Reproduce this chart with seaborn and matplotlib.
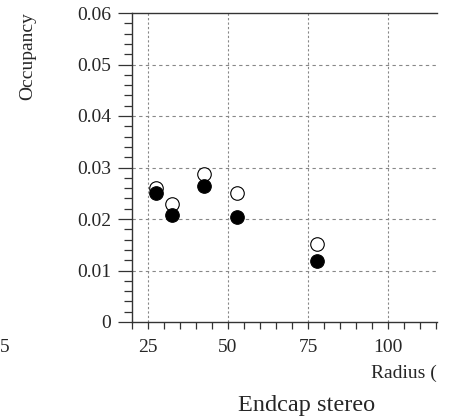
import matplotlib
matplotlib.use("Agg")
import matplotlib.pyplot as plt
import seaborn as sns
import pandas as pd
from matplotlib.ticker import MultipleLocator, FixedLocator

sns.set_style("white")
plt.rcParams['font.family'] = ['Liberation Serif', 'DejaVu Serif']

radius = [27.5, 32.6, 42.6, 52.7, 77.7]
occ_open = [0.0261, 0.0229, 0.0287, 0.0250, 0.0151]
occ_filled = [0.0250, 0.0208, 0.0264, 0.0203, 0.0119]
xticks = [25, 50, 75, 100]
yticks = [0, 0.01, 0.02, 0.03, 0.04, 0.05, 0.06]
ytick_labels = ["0", "0.01", "0.02", "0.03", "0.04", "0.05", "0.06"]

df = pd.DataFrame({
    "radius": radius * 2,
    "occ": occ_open + occ_filled,
    "kind": ["open"] * len(radius) + ["filled"] * len(radius),
})

fig = plt.figure(figsize=(4.56, 4.17), dpi=100)
ax = fig.add_axes([132/456, 1 - 322/417, (437-132)/456, (322-13)/417])

sns.scatterplot(data=df[df.kind == "open"], x="radius", y="occ", ax=ax,
                s=95, facecolor="white", edgecolor="black", linewidth=0.8,
                legend=False, zorder=3)
sns.scatterplot(data=df[df.kind == "filled"], x="radius", y="occ", ax=ax,
                s=95, color="black", edgecolor="black", linewidth=0.8,
                legend=False, zorder=4)

ax.set_xlim(20, 115.3)
ax.set_ylim(0, 0.06)
ax.set_xlabel("")
ax.set_ylabel("")

ax.xaxis.set_major_locator(FixedLocator(xticks))
ax.xaxis.set_minor_locator(MultipleLocator(5))
ax.yaxis.set_major_locator(FixedLocator(yticks))
ax.set_yticklabels(ytick_labels)
ax.yaxis.set_minor_locator(MultipleLocator(0.002))

for sp in ["right"]:
    ax.spines[sp].set_visible(False)
for sp in ["left", "bottom", "top"]:
    ax.spines[sp].set_color("#333333")
    ax.spines[sp].set_linewidth(1.0)

ax.tick_params(axis="y", which="major", length=10, width=0.9, color="#333333",
               labelsize=14, left=True, direction="out", pad=5)
ax.tick_params(axis="y", which="minor", length=5.5, width=0.9, color="#333333", left=True)
ax.tick_params(axis="x", which="major", length=5, width=0.9, color="#333333",
               labelsize=14, bottom=True, direction="out", pad=7)
ax.tick_params(axis="x", which="minor", length=5, width=0.9, color="#333333", bottom=True)

for x in xticks:
    ax.axvline(x, color="#888888", linestyle=(0, (2, 2)), linewidth=0.8, zorder=1)
for y in yticks[1:-1]:
    ax.axhline(y, color="#888888", linestyle=(0, (3, 3)), linewidth=0.8, zorder=1)

fig.text(28/456, 1 - 12/417, "Occupancy", rotation=90, ha="center", va="top", fontsize=14)
fig.text(437/456, 1 - 373/417, "Radius (", ha="right", va="center", fontsize=14)
fig.text(307/456, 1 - 405/417, "Endcap stereo", ha="center", va="center", fontsize=17.5)
fig.text(5/456, 1 - 347/417, "5", ha="center", va="center", fontsize=14)

fig.savefig("out.png", dpi=100)
